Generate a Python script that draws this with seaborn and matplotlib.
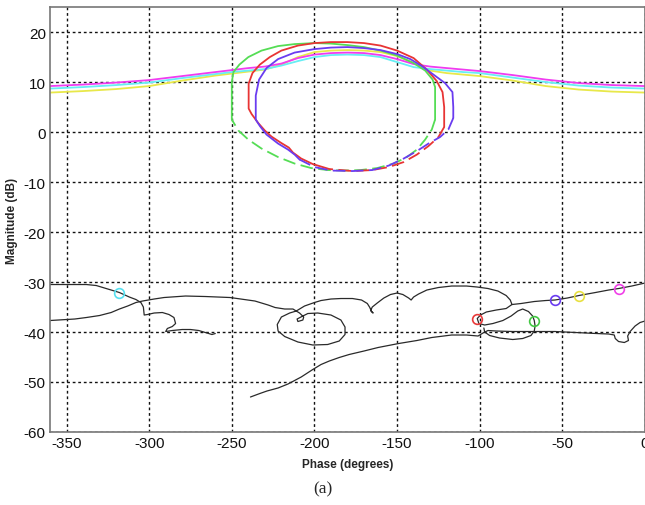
import matplotlib
matplotlib.use("Agg")
import matplotlib.pyplot as plt
import seaborn as sns
import numpy as np

sns.set_style("white")
plt.rcParams['font.family'] = ['Liberation Sans Narrow', 'Liberation Sans', 'DejaVu Sans']

# ---- data ----
# near-horizontal open-loop curves (magenta, cyan, yellow)
h_phase = [-360, -340, -320, -300, -280, -260, -250, -240, -230, -220, -210, -200, -190, -180,
           -170, -160, -150, -140, -130, -120, -110, -100, -80, -60, -40, -20, 0]
mag_magenta = [9.2, 9.5, 9.9, 10.4, 11.2, 12.0, 12.4, 12.8, 13.1, 13.7, 14.8, 15.5, 15.8, 15.9,
               15.8, 15.4, 14.6, 13.6, 13.1, 12.8, 12.5, 12.2, 11.4, 10.5, 9.8, 9.4, 9.2]
mag_cyan = [8.7, 9.0, 9.4, 9.9, 10.8, 11.6, 12.0, 12.3, 12.6, 13.3, 14.2, 15.0, 15.4, 15.5,
            15.4, 15.0, 14.0, 13.0, 12.6, 12.3, 12.0, 11.8, 10.9, 10.0, 9.3, 8.9, 8.7]
mag_yellow = [7.9, 8.2, 8.6, 9.2, 10.3, 11.3, 11.7, 12.1, 12.5, 13.5, 15.0, 16.0, 16.3, 16.4,
              16.3, 16.0, 15.2, 13.8, 12.3, 11.8, 11.5, 11.2, 10.3, 9.2, 8.5, 8.1, 7.9]

# closed-loop contours: solid part and broken (dashed) part
green_solid_x = [-250, -250, -250, -249, -245.4, -240, -232, -222, -212, -200, -190, -180, -170,
                 -160, -150, -140, -133, -128.5, -127, -127, -127]
green_solid_y = [2.5, 6, 10, 12, 13.5, 15, 16.3, 17.2, 17.6, 17.8, 17.7, 17.4, 17, 16.3, 15.3,
                 13.8, 12.3, 10.5, 9, 5, 2.5]
green_dash_x = [-127, -129, -133, -138, -144, -152, -162, -172, -182, -192, -202, -212, -222,
                -232, -240, -246, -250]
green_dash_y = [2.5, 0.5, -1.5, -3.5, -5, -6.3, -7.2, -7.6, -7.7, -7.6, -7.2, -6.3, -5, -3.3,
                -1.5, 0.3, 2.5]

red_solid_x = [-191, -201, -208, -213, -215.5, -220, -226, -230, -234, -238, -239.8, -239.8,
               -239.8, -237.5, -233, -227, -220, -210, -200, -190, -180, -170, -160, -150,
               -140, -132, -126, -122.5, -121.5, -121.5]
red_solid_y = [-7.4, -6.4, -5.3, -4.1, -3.1, -2.2, -0.9, 0.3, 1.8, 3.6, 4.7, 7, 9.7, 11.8, 13.5,
               15, 16.3, 17.3, 17.8, 18, 18, 17.8, 17.3, 16.3, 14.8, 12.5, 10.2, 8, 5, 1]
red_dash_x = [-121.5, -125, -131, -138, -146, -155, -165, -177, -191]
red_dash_y = [1, -1, -2.8, -4.5, -6, -7, -7.6, -7.8, -7.4]

blue_solid_x = [-209, -212, -216, -222, -229, -233, -235.5, -235.5, -235.5, -233.5, -229, -222,
                -212, -200, -190, -180, -170, -160, -150, -142, -135, -128, -121, -116.5, -116,
                -116]
blue_solid_y = [-5.5, -4.5, -3.5, -2.3, -0.5, 1.2, 2.5, 5, 7.3, 10.5, 12.8, 14.6, 15.9, 16.6,
                16.9, 17, 16.8, 16.4, 15.6, 14.6, 13.2, 11.5, 9.8, 8, 5, 2.8]
blue_dash_x = [-116, -119, -124, -131, -138, -146, -155, -165, -177, -190, -200, -209]
blue_dash_y = [2.8, 0.5, -1, -2.3, -3.8, -5.3, -6.7, -7.6, -7.8, -7.7, -7, -5.5]

# black traces in the lower part
blkA_x = [-360, -345, -338, -332, -326, -318, -312, -308, -305, -303.5, -303, -301, -297, -292,
          -288, -285, -284, -286, -289, -290, -286, -280, -275, -270, -266, -262, -260]
blkA_y = [-30.5, -30.5, -30.5, -30.7, -31.3, -32.1, -33, -33.5, -34.1, -35, -36.6, -36.5, -36.2,
          -36.1, -36.5, -37.1, -38.3, -38.9, -39.3, -39.9, -39.7, -39.5, -39.5, -39.7, -40.1,
          -40.5, -40.3]

blkB_x = [-360, -345, -338, -330, -323, -318, -313, -308, -304, -297, -291, -278, -266, -251,
          -236, -228, -223.8, -218, -213, -211,
          -215, -220, -222.5, -222, -218, -210, -201, -192, -185, -181.5, -181.5, -184, -190,
          -198, -204, -207, -210.5, -210, -207, -206.5, -209, -211, -208,
          -206, -200, -196, -190, -184, -177, -171.5, -168, -166.5, -165.5, -164.5, -166, -165,
          -162, -158, -154, -150, -146.5, -143, -141.5, -140, -137, -132, -125, -117, -108,
          -101.5, -95, -89, -84, -81.5, -80.5,
          -84, -90, -96, -99.5, -101.5, -100.5, -97, -92, -86, -81, -77, -74, -70.5, -68, -67,
          -66.5, -67, -69, -74, -80, -88, -94, -97, -97.5]
blkB_y = [-37.7, -37.4, -37.1, -36.7, -36.1, -35.4, -34.8, -34.1, -33.8, -33.4, -33.1, -32.8,
          -32.9, -33.1, -33.8, -34.6, -35.1, -35.4, -35.4, -35.8,
          -36.2, -37, -38.5, -39.8, -40.9, -42, -42.6, -42.5, -41.8, -40.5, -39, -37.6, -36.6,
          -36.2, -36.3, -36.8, -37.4, -37.9, -37.6, -37.0, -36.2, -35.8, -35.2,
          -34.8, -34.1, -33.7, -33.4, -33.3, -33.3, -33.6, -34.3, -35.1, -35.9, -36.2, -35.7,
          -35, -34.2, -33.2, -32.5, -32.2, -32.5, -33.2, -33.6, -33, -32.4, -31.6, -31.1,
          -30.8, -30.8, -31, -31.3, -31.8, -32.7, -33.6, -34.5,
          -35.3, -35.6, -36, -36.6, -37.3, -38.3, -38.6, -38.3, -37.7, -36.8, -35.8, -35.4,
          -35.9, -36.8, -37.7, -38.8, -39.8, -40.7, -41.3, -41.5, -41.2, -40.7, -40, -39.2]

blkC_x = [-238.7, -233, -228.7, -222, -216, -208, -201, -196, -191, -185, -179, -170, -161.5,
          -149, -138, -129, -117, -108, -101, -97.5, -95, -90, -80, -66.9, -54.5, -42, -29.5,
          -22, -18.6, -18, -16, -12.5, -10, -10.5, -9, -6, -3, 0]
blkC_y = [-53, -52.3, -51.8, -51.2, -50.4, -49, -47.5, -46.5, -45.8, -45.1, -44.5, -43.8, -43.1,
          -42.3, -41.7, -41.1, -40.6, -40.6, -40.8, -40.1, -39.7, -39.8, -39.9, -39.9, -39.9,
          -40.1, -40.3, -40.4, -40.6, -41.3, -41.9, -42.1, -41.7, -40.8, -39.9, -38.8, -38.1,
          -37.8]

blkD_x = [-80.5, -75, -67, -60, -54.5, -47, -40, -30, -22, -16, -8, 0]
blkD_y = [-34.5, -34.3, -33.9, -33.7, -33.6, -33.2, -32.7, -32.1, -31.6, -31.3, -30.8, -30.2]

# circle markers
mark_x = [-318, -101.5, -67, -54.5, -40, -16]
mark_y = [-32.1, -37.3, -37.7, -33.6, -32.7, -31.3]
mark_c = ['#55e0f0', '#e83a3a', '#44c844', '#6a3cf0', '#e8e040', '#f040e8']

x_ticks = [-350, -300, -250, -200, -150, -100, -50, 0]
y_ticks = [-60, -50, -40, -30, -20, -10, 0, 10, 20]

# ---- figure ----
fig = plt.figure(figsize=(6.45, 5.06), dpi=100)
ax = fig.add_axes([0.0775, 0.1443, 0.9225, 0.8397])

MAG = '#f03cf0'
CYA = '#66eef4'
YEL = '#e8e84a'
GRN = '#55dd55'
RED = '#e83434'
BLU = '#6a3cf0'
BLK = '#2a2a2a'

def line(x, y, color, lw=1.3, ls='-'):
    sns.lineplot(x=x, y=y, sort=False, estimator=None, color=color, lw=lw,
                 linestyle=ls, ax=ax, legend=False)

line(h_phase, mag_yellow, YEL)
line(h_phase, mag_cyan, CYA)
line(h_phase, mag_magenta, MAG)

dash = (0, (7, 3))
line(green_solid_x, green_solid_y, GRN)
line(green_dash_x, green_dash_y, GRN, ls=dash)
line(red_solid_x, red_solid_y, RED)
line(red_dash_x, red_dash_y, RED, ls=dash)
line(blue_solid_x, blue_solid_y, BLU)
line(blue_dash_x, blue_dash_y, BLU, ls=dash)

line(blkA_x, blkA_y, BLK, lw=0.9)
line(blkB_x, blkB_y, BLK, lw=0.9)
line(blkC_x, blkC_y, BLK, lw=0.9)
line(blkD_x, blkD_y, BLK, lw=0.9)

for mx, my, mc in zip(mark_x, mark_y, mark_c):
    ax.plot([mx], [my], marker='o', ms=7, mfc='none', mec=mc, mew=1.2, ls='none')

ax.set_xlim(-360, 0)
ax.set_ylim(-60, 25)
ax.set_xticks(x_ticks)
ax.set_yticks(y_ticks)
ax.set_xticklabels([str(v) for v in x_ticks])
ax.set_yticklabels([str(v) for v in y_ticks])
ax.tick_params(axis='both', length=0, labelsize=11, pad=3, colors='#111111')
ax.grid(True, color='#111111', linestyle=(0, (2, 2)), linewidth=1.0)
for s in ax.spines.values():
    s.set_color('#777777')
    s.set_linewidth(1.2)

ax.set_xlabel('Phase (degrees)', fontsize=8.5, fontweight='bold', labelpad=6,
              family=['Liberation Sans', 'DejaVu Sans'])
ax.set_ylabel('Magnitude (dB)', fontsize=8.5, fontweight='bold', labelpad=4,
              family=['Liberation Sans', 'DejaVu Sans'])
fig.text(0.5, 0.032, '(a)', ha='center', va='center', fontsize=12.5,
         family=['Liberation Serif', 'DejaVu Serif'])

fig.savefig('out.png', dpi=100)
